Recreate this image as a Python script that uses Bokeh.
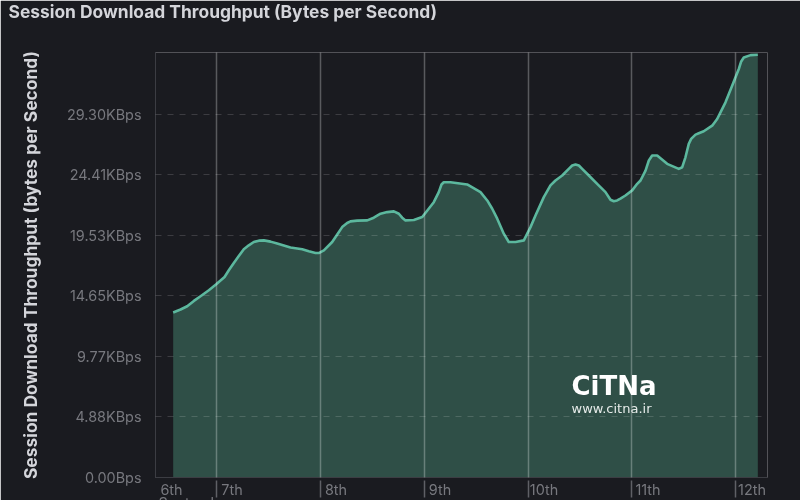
from bokeh.embed import file_html
from bokeh.models import FixedTicker, Label, LinearAxis, Range1d, Title
from bokeh.plotting import figure
from bokeh.resources import INLINE

#Values
days = [6.588, 6.659, 6.723, 6.787, 6.851, 6.931, 7.002, 7.082, 7.123, 7.171,
        7.219, 7.267, 7.315, 7.363, 7.412, 7.460, 7.524, 7.588, 7.652, 7.716,
        7.829, 7.892, 7.957, 7.988, 8.037, 8.117, 8.164, 8.213, 8.261, 8.293,
        8.358, 8.454, 8.517, 8.582, 8.646, 8.710, 8.758, 8.790, 8.822, 8.902,
        8.983, 9.094, 9.142, 9.168, 9.190, 9.255, 9.415, 9.543, 9.608, 9.656,
        9.704, 9.767, 9.815, 9.880, 9.960, 10.024, 10.072, 10.152, 10.216, 10.264,
        10.329, 10.392, 10.425, 10.457, 10.489, 10.521, 10.585, 10.665, 10.745, 10.793,
        10.825, 10.857, 10.889, 10.937, 11.002, 11.050, 11.082, 11.130, 11.162, 11.194,
        11.242, 11.338, 11.450, 11.483, 11.514, 11.546, 11.569, 11.611, 11.642, 11.690,
        11.771, 11.819, 11.851, 11.899, 11.963, 12.027, 12.050, 12.075, 12.140, 12.210]
throughput = [13.31, 13.55, 13.81, 14.24, 14.62, 15.10, 15.58, 16.17, 16.71, 17.30,
              17.86, 18.40, 18.72, 18.99, 19.10, 19.12, 19.02, 18.86, 18.70, 18.54,
              18.40, 18.24, 18.10, 18.10, 18.32, 18.99, 19.58, 20.19, 20.52, 20.65,
              20.71, 20.73, 20.95, 21.27, 21.40, 21.46, 21.27, 20.95, 20.73, 20.76,
              21.00, 22.20, 23.01, 23.63, 23.81, 23.81, 23.63, 23.01, 22.34, 21.67,
              20.87, 19.66, 18.99, 18.99, 19.12, 20.19, 21.13, 22.61, 23.55, 23.95,
              24.35, 24.89, 25.16, 25.24, 25.16, 24.89, 24.35, 23.68, 23.01, 22.40,
              22.28, 22.34, 22.48, 22.74, 23.15, 23.68, 23.95, 24.75, 25.56, 25.96,
              25.96, 25.29, 24.89, 25.02, 25.82, 26.90, 27.30, 27.65, 27.76, 27.92,
              28.37, 28.91, 29.44, 30.25, 31.59, 32.94, 33.55, 33.87, 34.06, 34.09]

y_ticks = [0, 4.88, 9.77, 14.65, 19.53, 24.41, 29.30]
y_tick_labels = ['0.00Bps', '4.88KBps', '9.77KBps', '14.65KBps', '19.53KBps', '24.41KBps', '29.30KBps']
x_ticks = [7, 8, 9, 10, 11, 12]
x_tick_labels = ['7th', '8th', '9th', '10th', '11th', '12th']
x_start = 6.418
x_end = 12.303
first_label = '6th'
month_label = 'September'

title_text = 'Session Download Throughput (Bytes per Second)'
y_title = 'Session Download Throughput (bytes per Second)'

#Colors
background = '#1a1b20'
tick_color = '#77787e'
font = 'Inter'

#Plot
p = figure(width=800, height=500,
           x_range=(x_start, x_end), y_range=(0, 34.27),
           output_backend='svg', toolbar_location=None,
           min_border_left=155, min_border_right=33,
           min_border_top=52, min_border_bottom=22,
           background_fill_color=background, border_fill_color=background,
           outline_line_color=None)
#Fill the whole window, the reference has no page margin
p.styles = {'position': 'fixed', 'left': '0', 'top': '0'}

#Title sits at the very top of the picture, the empty line pushes it up
p.title.text = title_text + '\n '
p.title.align = 'left'
p.title.offset = -147
p.title.standoff = -32
p.title.text_color = '#d4d5da'
p.title.text_font = font
p.title.text_font_style = 'bold'
p.title.text_font_size = '17.4px'
p.title.text_line_height = 2.2

p.varea(days, 0, throughput, fill_color='#2f4f47')
p.line(days, throughput, line_color='#5cb89e', line_width=2.6, line_join='round')

#Grid goes over the area
p.xgrid.ticker = FixedTicker(ticks=x_ticks)
p.xgrid.level = 'overlay'
p.xgrid.grid_line_color = '#ffffff'
p.xgrid.grid_line_alpha = 0.28
p.xgrid.grid_line_width = 1.5
p.ygrid.ticker = FixedTicker(ticks=y_ticks[1:])
p.ygrid.level = 'overlay'
p.ygrid.grid_line_color = '#ffffff'
p.ygrid.grid_line_alpha = 0.15
p.ygrid.grid_line_dash = [6, 6]

#Y axis
p.yaxis.ticker = FixedTicker(ticks=y_ticks)
p.yaxis.major_label_overrides = dict(zip(y_ticks, y_tick_labels))
p.yaxis.major_label_text_color = tick_color
p.yaxis.major_label_text_font = font
p.yaxis.major_label_text_font_size = '14.4px'
p.yaxis.major_label_standoff = 14
p.yaxis.major_tick_in = 0
p.yaxis.major_tick_out = 0
p.yaxis.minor_tick_line_color = None
p.yaxis.axis_line_color = '#3c3d43'
p.yaxis.axis_label = y_title
p.yaxis.axis_label_text_color = '#d4d5da'
p.yaxis.axis_label_text_font = font
p.yaxis.axis_label_text_font_style = 'bold'
p.yaxis.axis_label_text_font_size = '17.4px'
p.yaxis.axis_label_standoff = 23

#X axis, labels sit right of each tick so they use a shifted range
day_shift = 16 / 104
p.extra_x_ranges = {'days': Range1d(x_start - day_shift, x_end - day_shift)}
day_axis = p.xaxis[0]
day_axis.x_range_name = 'days'
day_axis.ticker = FixedTicker(ticks=[x_start] + x_ticks)
day_axis.major_label_overrides = dict(zip([x_start] + x_ticks, [first_label] + x_tick_labels))
day_axis.major_label_standoff = 3
day_axis.major_label_text_color = tick_color
day_axis.major_label_text_font = font
day_axis.major_label_text_font_size = '14.4px'
day_axis.major_tick_line_color = None
day_axis.major_tick_in = 0
day_axis.major_tick_out = 0
day_axis.minor_tick_line_color = None
day_axis.axis_line_color = '#3c3d43'

#Tick lines only, stacked under the labels and pointing back up to the frame
tick_axis = LinearAxis(ticker=FixedTicker(ticks=x_ticks),
                       major_label_overrides={t: '' for t in x_ticks},
                       major_label_standoff=0,
                       major_tick_in=20, major_tick_out=-3,
                       major_tick_line_color='#5f6066', major_tick_line_width=1.5,
                       minor_tick_line_color=None, axis_line_color=None)
p.add_layout(tick_axis, 'below')

#Month under the first label, only its top fits in the picture
p.add_layout(Title(text=month_label, align='left', offset=3, standoff=-20,
                   text_color=tick_color, text_font=font, text_font_style='normal',
                   text_font_size='14.4px'), 'below')

#Watermark
p.add_layout(Label(x=416, y=92, x_units='screen', y_units='screen', text='CiTNa',
                   text_color='#ffffff', text_font='DejaVu Sans', text_font_style='bold',
                   text_font_size='26px', text_baseline='middle'))
p.add_layout(Label(x=416, y=69, x_units='screen', y_units='screen', text='www.citna.ir',
                   text_color='#e6ebe9', text_font='DejaVu Sans',
                   text_font_size='13px', text_baseline='middle'))

open('out.html', 'w').write(file_html(p, INLINE))
